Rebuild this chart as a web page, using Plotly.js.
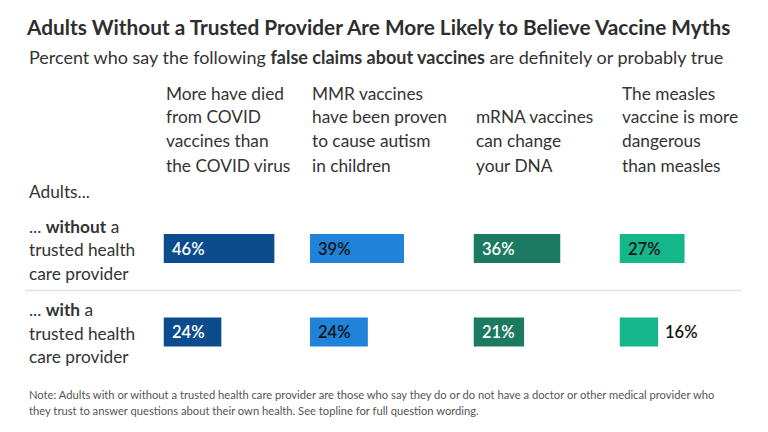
<!DOCTYPE html>
<html>
<head>
<meta charset="utf-8">
<script src="https://cdn.plot.ly/plotly-3.0.1.min.js"></script>
<style>
  html, body { margin: 0; padding: 0; background: #ffffff; }
  #chart { width: 768px; height: 432px; }
</style>
</head>
<body>
<div id="chart"></div>
<script>
// False vaccine claims (column headers)
const claims = [
  "More have died<br>from COVID<br>vaccines than<br>the COVID virus",
  "MMR vaccines<br>have been proven<br>to cause autism<br>in children",
  "mRNA vaccines<br>can change<br>your DNA",
  "The measles<br>vaccine is more<br>dangerous<br>than measles"
];
// Respondent groups (rows)
const groups = ["without", "with"];
const groupLabels = [
  "... <b>without</b> a<br>trusted health<br>care provider",
  "... <b>with</b> a<br>trusted health<br>care provider"
];
// Percent saying each claim is definitely or probably true
const withoutProvider = [46, 39, 36, 27];
const withProvider = [24, 24, 21, 16];

const barColors = ["#0b4c8c", "#1f83d9", "#1d7a62", "#14b68a"];
const insideLabelColors = ["#ffffff", "#141414", "#ffffff", "#141414"];

const W = 768, H = 432;
const FONT = "Lato, 'Open Sans', sans-serif";
const colStart = [163.5, 310, 473.5, 619.5]; // px, left edge of each column
const pxPerPct = 2.41;
const colWidth = 135;                        // px of each column's x axis

const py = px => 1 - px / H;                  // pixel row -> paper y
const pxX = px => px / W;                     // pixel col -> paper x

const rows = [withoutProvider, withProvider];
const traces = [];
const layout = {
  width: W, height: H,
  margin: {l: 0, r: 0, t: 0, b: 0},
  paper_bgcolor: "#ffffff",
  plot_bgcolor: "rgba(0,0,0,0)",
  showlegend: false,
  font: {family: FONT, color: "#333333"},
  title: {
    text: "<b>Adults Without a Trusted Provider Are More Likely to Believe Vaccine Myths</b>",
    font: {family: FONT, size: 20.8, color: "#2e2e2e"},
    x: pxX(27), xanchor: "left", xref: "paper",
    y: py(28), yanchor: "middle", yref: "paper"
  },
  yaxis: {
    type: "category",
    categoryarray: groups,
    range: [1.5, -0.5],
    domain: [py(373.75), py(206.75)],
    visible: false,
    fixedrange: true
  },
  annotations: [],
  shapes: [{
    type: "line", xref: "paper", yref: "paper",
    x0: pxX(25), x1: pxX(742), y0: py(290.5), y1: py(290.5),
    line: {color: "#e2e2e2", width: 1.5}
  }]
};

function addText(text, xpx, ypx, size, color, extra) {
  layout.annotations.push(Object.assign({
    text: text, xref: "paper", yref: "paper",
    x: pxX(xpx), y: py(ypx), xanchor: "left", yanchor: "middle",
    showarrow: false, align: "left",
    font: {family: FONT, size: size, color: color}
  }, extra || {}));
}

// Subtitle
addText("Percent who say the following <b>false claims about vaccines</b> are definitely or probably true",
        27, 57, 18, "#333333");

claims.forEach((claim, i) => {
  const ax = i === 0 ? "x" : "x" + (i + 1);
  const axKey = i === 0 ? "xaxis" : "xaxis" + (i + 1);
  layout[axKey] = {
    domain: [pxX(colStart[i]), pxX(colStart[i] + colWidth)],
    range: [0, colWidth / pxPerPct],
    anchor: "y",
    visible: false,
    fixedrange: true
  };
  traces.push({
    type: "bar",
    orientation: "h",
    x: rows.map(r => r[i]),
    y: groups,
    xaxis: ax, yaxis: "y",
    width: 0.347,
    marker: {color: barColors[i], line: {width: 0}},
    hoverinfo: "skip"
  });

  // Column header, bottom-aligned lines
  const lines = claim.split("<br>");
  lines.forEach((ln, k) => {
    addText(ln, colStart[i], 165 - (lines.length - 1 - k) * 24, 17.3, "#333333");
  });

  // Value labels: inside the bar when it fits, else just past its end
  rows.forEach((r, j) => {
    const v = r[i];
    const fits = v * pxPerPct > 45;
    layout.annotations.push({
      text: v + "%", xref: ax, yref: "y",
      x: fits ? 0 : v, y: groups[j],
      xanchor: "left", yanchor: "middle",
      xshift: fits ? 6 : 5,
      showarrow: false,
      font: {family: FONT, size: 16.5, color: fits ? insideLabelColors[i] : "#141414", weight: 600}
    });
  });
});

// Row labels
addText("Adults...", 27, 191, 17.3, "#333333");
const rowLineY = [[226, 249.5, 273], [309.5, 333, 356.5]];
groupLabels.forEach((lbl, j) => {
  lbl.split("<br>").forEach((ln, k) => addText(ln, 27, rowLineY[j][k], 17.3, "#333333"));
});

// Note
addText("Note: Adults with or without a trusted health care provider are those who say they do or do not have a doctor or other medical provider who",
        27, 394, 11.2, "#555555");
addText("they trust to answer questions about their own health. See topline for full question wording.",
        27, 410, 11.2, "#555555");

Plotly.newPlot("chart", traces, layout, {displayModeBar: false, staticPlot: true});
</script>
</body>
</html>
